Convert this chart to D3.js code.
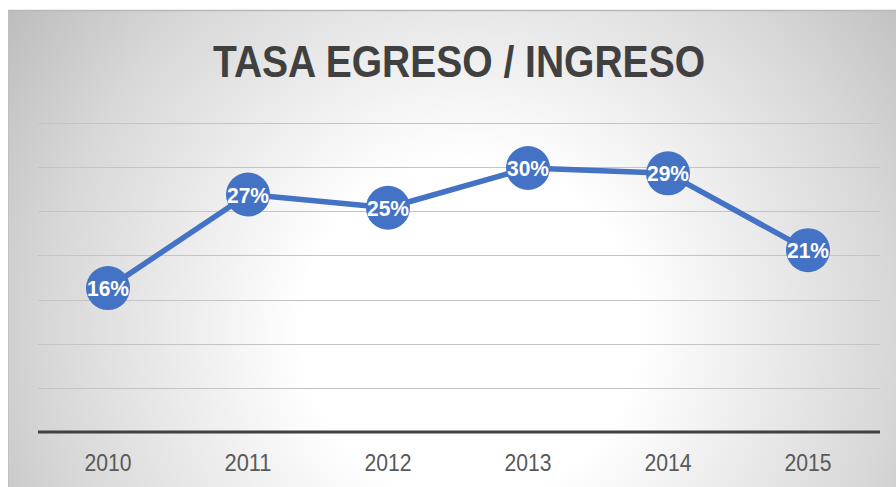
<!DOCTYPE html>
<html><head><meta charset="utf-8">
<script src="https://cdn.jsdelivr.net/npm/d3@7"></script>
<style>html,body{margin:0;padding:0;background:#fff;overflow:hidden}</style>
</head><body>
<svg id="c" width="896" height="487"></svg>
<script>
const title = "TASA EGRESO / INGRESO";
const years = ["2010","2011","2012","2013","2014","2015"];
const rates = [16.3, 26.9, 25.4, 29.9, 29.3, 20.6];
const yTicks = [0,5,10,15,20,25,30,35];

const svg = d3.select("#c");
const W = 896, H = 487;
const defs = svg.append("defs");
const rg = defs.append("radialGradient").attr("id","bg")
  .attr("gradientUnits","userSpaceOnUse").attr("cx",470).attr("cy",330).attr("r",560);
rg.append("stop").attr("offset","0").attr("stop-color","#ffffff");
rg.append("stop").attr("offset","0.3").attr("stop-color","#ffffff");
rg.append("stop").attr("offset","0.75").attr("stop-color","#d8d8d8");
rg.append("stop").attr("offset","1").attr("stop-color","#bdbdbd");

svg.append("rect").attr("x",8).attr("y",10).attr("width",W-8).attr("height",H-10).attr("fill","url(#bg)");
svg.append("line").attr("x1",8).attr("x2",W).attr("y1",10.5).attr("y2",10.5).attr("stroke","#b8b8b8").attr("stroke-width",1.5);
svg.append("line").attr("x1",8.5).attr("x2",8.5).attr("y1",10).attr("y2",H).attr("stroke","#c0c0c0").attr("stroke-width",1);

const x = d3.scaleBand().domain(years).range([38,878]);
const y = d3.scaleLinear().domain([0,35]).range([432,123]);

// gridlines
svg.append("g").selectAll("line").data(yTicks.slice(1)).join("line")
  .attr("x1",38).attr("x2",880).attr("y1",d=>Math.round(y(d))+0.5).attr("y2",d=>Math.round(y(d))+0.5)
  .attr("stroke","#c4c4c4").attr("stroke-width",1.2);

// axis
const xa = svg.append("g").attr("transform","translate(0,432)").call(d3.axisBottom(x).tickSize(0).tickPadding(0));
xa.select(".domain").remove();
svg.append("line").attr("x1",38).attr("x2",880).attr("y1",432).attr("y2",432).attr("stroke","#404040").attr("stroke-width",3);
xa.selectAll("text").attr("y",39).attr("dy",null).attr("fill","#595959")
  .attr("font-family","Liberation Sans, Arial, sans-serif").attr("font-size",23)
  .attr("textLength",47).attr("lengthAdjust","spacingAndGlyphs");

// title
svg.append("text").attr("x",459).attr("y",77).attr("text-anchor","middle")
  .attr("font-family","Liberation Sans, Arial, sans-serif").attr("font-weight","bold").attr("font-size",44)
  .attr("fill","#404040").attr("textLength",492).attr("lengthAdjust","spacingAndGlyphs").text(title);

const cx = (d,i)=>x(years[i])+x.bandwidth()/2;
const line = d3.line().x((d,i)=>cx(d,i)).y(d=>y(d));
svg.append("path").datum(rates).attr("d",line).attr("fill","none").attr("stroke","#4472C4").attr("stroke-width",5.5).attr("stroke-linejoin","round");

svg.append("g").selectAll("circle").data(rates).join("circle")
  .attr("cx",cx).attr("cy",d=>y(d)).attr("r",22).attr("fill","#4472C4");
svg.append("g").selectAll("text").data(rates).join("text")
  .attr("x",cx).attr("y",d=>y(d)+8).attr("text-anchor","middle")
  .attr("font-family","Liberation Sans, Arial, sans-serif").attr("font-weight","bold").attr("font-size",22)
  .attr("fill","#ffffff").attr("textLength",42).attr("lengthAdjust","spacingAndGlyphs").text(d=>Math.round(d)+"%");
</script>
</body></html>
